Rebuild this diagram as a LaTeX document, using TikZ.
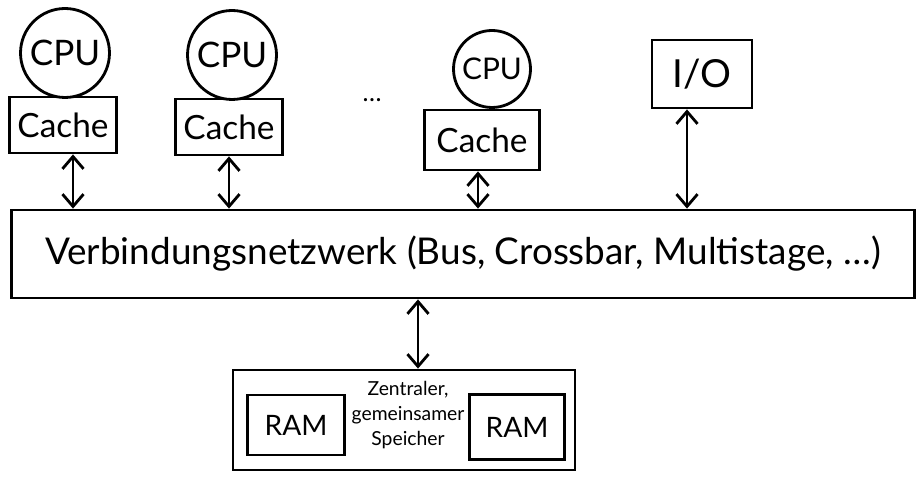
\documentclass[tikz,border=0pt]{standalone}
\usepackage{fontspec}
\setmainfont{Lato}
\usetikzlibrary{arrows.meta, positioning}

\begin{document}
\begin{tikzpicture}[x=0.02cm, y=-0.02cm, line width=1.6pt,
  cpu/.style={draw, circle, inner sep=0pt, minimum size=1.78cm, font=\fontsize{20}{24}\selectfont},
  cachebox/.style={draw, rectangle, inner sep=2pt, minimum width=2.15cm, minimum height=1.12cm, font=\fontsize{19}{23}\selectfont},
  ramkiste/.style={draw, rectangle, inner sep=2pt, font=\fontsize{16}{18}\selectfont},
  pfeil/.style={{Straight Barb[length=7pt, width=12pt]}-{Straight Barb[length=7pt, width=12pt]}}]
% Rahmen der Seite
\useasboundingbox (0,0) rectangle (918,479);
% Prozessoren mit ihren Caches
\node[cpu] (cpu1) at (65,53) {CPU};
\node[cachebox] (cache1) at (63,125) {Cache};
\node[cpu] (cpu2) at (232,55) {CPU};
\node[cachebox] (cache2) at (229,127) {Cache};
\node (punkte) at (372,100) {\Large\dots};
\node[cpu, minimum size=1.54cm, font=\fontsize{17}{20}\selectfont] (cpu3) at (492,69) {CPU};
\node[cachebox, minimum width=2.3cm, minimum height=1.2cm] (cache3) at (482,140) {Cache};
% Ein-/Ausgabe
\node[cachebox, minimum width=2cm, minimum height=1.36cm, font=\fontsize{22}{26}\selectfont] (io) at (702,74) {I/O};
% Verbindungsnetzwerk
\node[draw, rectangle, minimum width=18.06cm, minimum height=1.76cm, font=\fontsize{21}{25}\selectfont] (netz) at (463,254) {Verbindungsnetzwerk (Bus, Crossbar, Multistage, \dots)};
% gemeinsamer Speicher
\node[draw, rectangle, minimum width=6.84cm, minimum height=2cm] (speicher) at (404,420) {};
\node[ramkiste, minimum width=1.94cm, minimum height=1.2cm] (ram1) at (296,425) {RAM};
\node[ramkiste, minimum width=1.9cm, minimum height=1.3cm] (ram2) at (517,427) {RAM};
\node[align=center, inner sep=0pt, font=\fontsize{11}{14}\selectfont] (speichertext) at (408,415) {Zentraler,\\gemeinsamer\\Speicher};
% Verbindungen
\draw[pfeil] ([xshift=0.2cm]cache1.south) -- ([xshift=0.2cm]cache1.south |- netz.north);
\draw[pfeil] (cache2.south) -- (cache2.south |- netz.north);
\draw[pfeil] ([xshift=-0.08cm]cache3.south) -- ([xshift=-0.08cm]cache3.south |- netz.north);
\draw[pfeil] ([xshift=-0.3cm]io.south) -- ([xshift=-0.3cm]io.south |- netz.north);
\draw[pfeil] ([xshift=0.28cm]speicher.north |- netz.south) -- ([xshift=0.28cm]speicher.north);
\end{tikzpicture}
\end{document}
